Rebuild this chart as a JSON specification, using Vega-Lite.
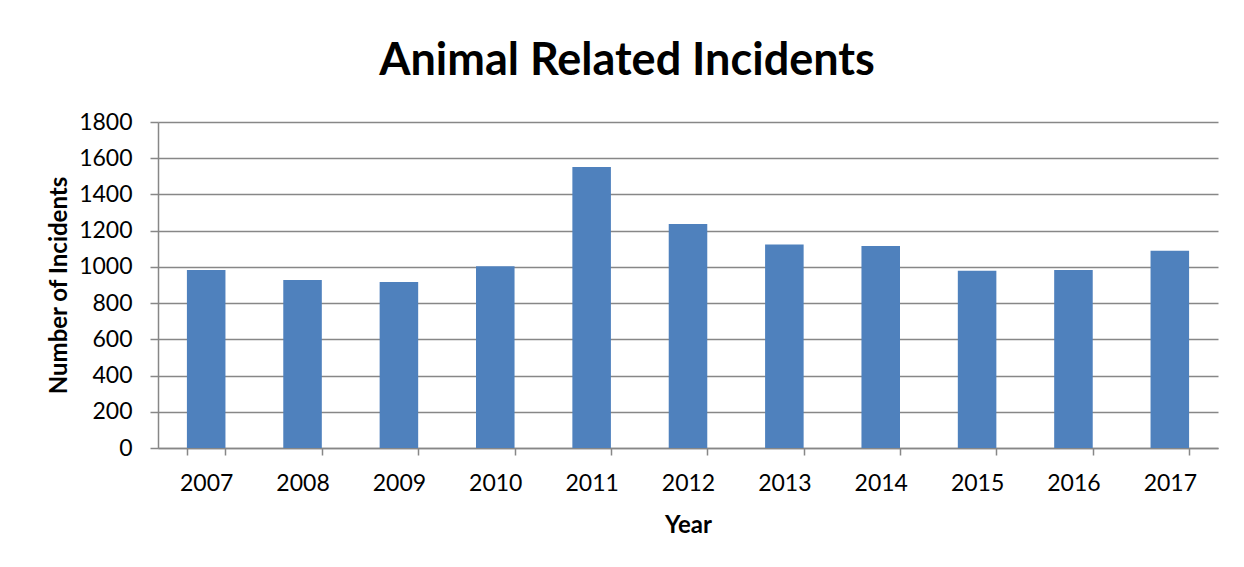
{
  "$schema": "https://vega.github.io/schema/vega-lite/v6.json",
  "autosize": "none",
  "width": 1060,
  "height": 326,
  "padding": {"left": 158, "top": 122, "right": 26, "bottom": 119},
  "background": "white",
  "title": {
    "text": "Animal Related Incidents",
    "font": "Lato",
    "fontSize": 45,
    "fontWeight": "bold",
    "color": "black",
    "anchor": "middle",
    "dx": -61,
    "baseline": "alphabetic",
    "offset": -9
  },
  "data": {
    "values": [
      {"Year": "2007", "Incidents": 983},
      {"Year": "2008", "Incidents": 928},
      {"Year": "2009", "Incidents": 917},
      {"Year": "2010", "Incidents": 1003},
      {"Year": "2011", "Incidents": 1551},
      {"Year": "2012", "Incidents": 1237},
      {"Year": "2013", "Incidents": 1124},
      {"Year": "2014", "Incidents": 1115},
      {"Year": "2015", "Incidents": 979},
      {"Year": "2016", "Incidents": 983},
      {"Year": "2017", "Incidents": 1089}
    ]
  },
  "mark": {"type": "bar", "color": "#4F81BD"},
  "encoding": {
    "x": {
      "field": "Year",
      "type": "ordinal",
      "scale": {"paddingInner": 0.6, "paddingOuter": 0.3},
      "axis": {
        "title": "Year",
        "titleFont": "Lato",
        "titleFontSize": 24,
        "titleFontWeight": "bold",
        "titleColor": "black",
        "titlePadding": 18,
        "labelFont": "Lato",
        "labelFontSize": 23,
        "labelColor": "black",
        "labelAngle": 0,
        "labelPadding": 17,
        "tickBand": "extent",
        "tickSize": 7,
        "tickColor": "#878787",
        "tickWidth": 1.5,
        "domainColor": "#878787",
        "domainWidth": 1.5,
        "grid": false
      }
    },
    "y": {
      "field": "Incidents",
      "type": "quantitative",
      "scale": {"domain": [0, 1800]},
      "axis": {
        "title": "Number of Incidents",
        "titleFont": "Lato",
        "titleFontSize": 24,
        "titleFontWeight": "bold",
        "titleColor": "black",
        "titlePadding": 7,
        "values": [0, 200, 400, 600, 800, 1000, 1200, 1400, 1600, 1800],
        "format": "d",
        "labelFont": "Lato",
        "labelFontSize": 23,
        "labelColor": "black",
        "labelPadding": 18,
        "tickSize": 8,
        "tickColor": "#878787",
        "tickWidth": 1.5,
        "domainColor": "#878787",
        "domainWidth": 1.5,
        "grid": true,
        "gridColor": "#878787",
        "gridWidth": 1.5
      }
    }
  },
  "config": {
    "view": {"stroke": null}
  }
}
